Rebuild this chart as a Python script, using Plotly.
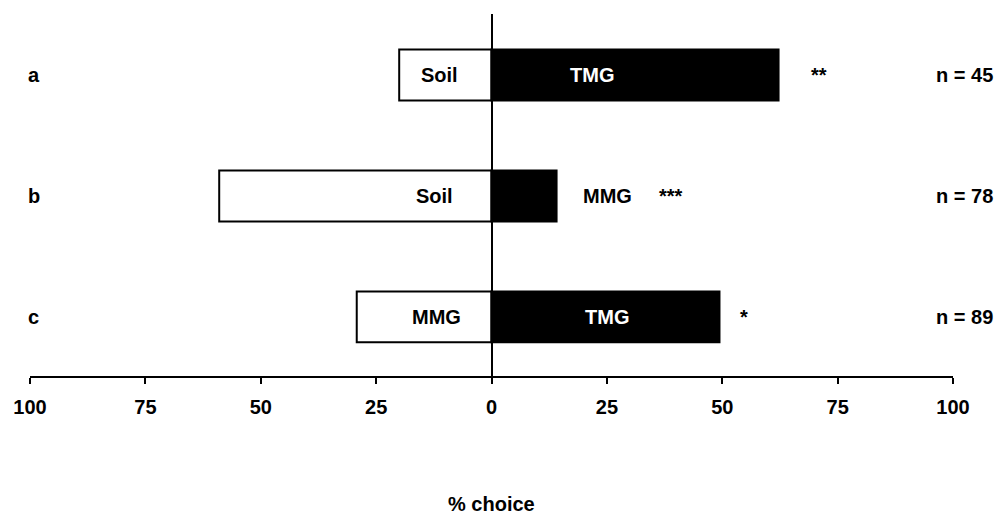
import plotly.graph_objects as go

# Data
rows = ["a", "b", "c"]
row_pos = [2, 1, 0]
left_labels = ["Soil", "Soil", "MMG"]
left_vals = [20.0, 59.0, 29.2]
right_labels = ["TMG", "MMG", "TMG"]
right_vals = [62.2, 14.1, 49.4]
signif = ["**", "***", "*"]
n_labels = ["n = 45", "n = 78", "n = 89"]
tick_vals = [-100, -75, -50, -25, 0, 25, 50, 75, 100]
tick_text = ["100", "75", "50", "25", "0", "25", "50", "75", "100"]

# label placement (data units)
left_label_x = [-11.2, -12.3, -11.9]
right_label_x = [21.7, 25.1, 25.0]
right_label_inside = [True, False, True]
star_x = [71, 39, 54.7]

FONT = "Liberation Sans, Arial, sans-serif"
FS = 20

fig = go.Figure()
fig.add_trace(go.Bar(
    y=row_pos, x=[-v for v in left_vals], orientation="h", width=0.42,
    marker=dict(color="white", line=dict(color="black", width=2)),
    hoverinfo="skip", showlegend=False))
fig.add_trace(go.Bar(
    y=row_pos, x=right_vals, orientation="h", width=0.42,
    marker=dict(color="black", line=dict(color="black", width=2)),
    hoverinfo="skip", showlegend=False))

ann = []
for i, r in enumerate(rows):
    y = row_pos[i]
    ann.append(dict(x=left_label_x[i], y=y, text="<b>%s</b>" % left_labels[i], showarrow=False,
                    font=dict(size=FS, color="black", family=FONT), xref="x", yref="y"))
    ann.append(dict(x=right_label_x[i], y=y, text="<b>%s</b>" % right_labels[i], showarrow=False,
                    font=dict(size=FS, color="white" if right_label_inside[i] else "black", family=FONT),
                    xref="x", yref="y"))
    ann.append(dict(x=star_x[i], y=y, text="<b>%s</b>" % signif[i], showarrow=False,
                    font=dict(size=FS, color="black", family=FONT), xref="x", yref="y"))
    ann.append(dict(x=1.0455, y=y, text="<b>%s</b>" % n_labels[i], showarrow=False, xanchor="right",
                    font=dict(size=FS, color="black", family=FONT), xref="paper", yref="y"))
    ann.append(dict(x=-100, y=y, text="<b>%s</b>" % r, showarrow=False, xanchor="left", xshift=-4,
                    font=dict(size=FS, color="black", family=FONT), xref="x", yref="y"))
ann.append(dict(x=0, y=-0.3536, text="<b>% choice</b>", showarrow=False, xref="x", yref="paper",
                yanchor="middle", font=dict(size=FS, color="black", family=FONT)))

fig.update_layout(
    width=999, height=515,
    margin=dict(l=30, r=46, t=14, b=139),
    plot_bgcolor="white", paper_bgcolor="white",
    barmode="overlay",
    annotations=ann,
    font=dict(family=FONT, color="black"),
    xaxis=dict(range=[-100, 100], tickvals=tick_vals, ticktext=["<b>%s</b>" % t for t in tick_text],
               showline=True, linecolor="black", linewidth=2, ticks="outside", ticklen=6,
               tickwidth=2, tickcolor="black", showgrid=False, zeroline=True,
               zerolinecolor="black", zerolinewidth=2, ticklabelstandoff=6,
               tickfont=dict(size=FS, family=FONT, color="black"), fixedrange=True),
    yaxis=dict(range=[-0.488, 2.504], showticklabels=False, showgrid=False, zeroline=False,
               showline=False, fixedrange=True),
)

fig.write_html("out.html")
